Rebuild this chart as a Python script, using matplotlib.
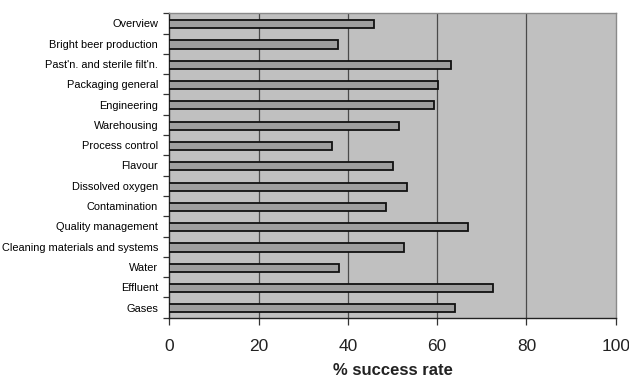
import numpy as np
import matplotlib
matplotlib.use('Agg')
import matplotlib.pyplot as plt
from matplotlib.ticker import FixedLocator
from matplotlib import font_manager

plt.rcParams['font.family'] = ['Liberation Sans', 'DejaVu Sans']

# topics, top to bottom, and their success rates (%)
topics = ['Overview', 'Bright beer production', "Past'n. and sterile filt'n.",
          'Packaging general', 'Engineering', 'Warehousing', 'Process control',
          'Flavour', 'Dissolved oxygen', 'Contamination', 'Quality management',
          'Cleaning materials and systems', 'Water', 'Effluent', 'Gases']
success = [45.9, 37.9, 63.0, 60.2, 59.2, 51.5, 36.4, 50.1, 53.3, 48.6,
           66.9, 52.5, 38.0, 72.5, 63.9]
x_ticks = [0, 20, 40, 60, 80, 100]

# narrow face for the topic names if it is there
names = {f.name for f in font_manager.fontManager.ttflist}
if 'Liberation Sans Narrow' in names:
    label_font = dict(family='Liberation Sans Narrow', size=9.2)
else:
    label_font = dict(family='Liberation Sans', size=7.9)

fig = plt.figure(figsize=(6.29, 3.8), dpi=100)
ax = fig.add_axes([0.269, 0.164, 0.710, 0.801])
ax.set_facecolor('#c0c0c0')

y = np.arange(len(topics))
ax.barh(y + 0.04, success, height=0.40, color='#9e9e9e', edgecolor='#111111',
        linewidth=1.3, zorder=3)

ax.set_xlim(0, 100)
ax.set_ylim(len(topics) - 0.5, -0.5)

# vertical gridlines
for v in x_ticks[1:-1]:
    ax.axvline(v, color='#4a4a4a', linewidth=0.9, zorder=1)

ax.set_xticks(x_ticks)
ax.set_xticklabels([str(v) for v in x_ticks], fontsize=12.5, color='#222222')
ax.tick_params(axis='x', direction='out', length=5, width=0.9, pad=10, color='#333333')

ax.set_yticks(y)
ax.set_yticklabels(topics, color='#000000', **label_font)
ax.tick_params(axis='y', which='major', length=0, pad=8)
ax.yaxis.set_minor_locator(FixedLocator(np.arange(-0.5, len(topics), 1.0)))
ax.tick_params(axis='y', which='minor', direction='out', length=4, width=0.9, color='#333333')

for side in ['left', 'bottom']:
    ax.spines[side].set_color('#222222')
    ax.spines[side].set_linewidth(1.0)
for side in ['top', 'right']:
    ax.spines[side].set_color('#8a8a8a')
    ax.spines[side].set_linewidth(1.0)

ax.set_xlabel('% success rate', fontsize=12, fontweight='bold', color='#222222', labelpad=7)

fig.savefig('out.png', dpi=100)
